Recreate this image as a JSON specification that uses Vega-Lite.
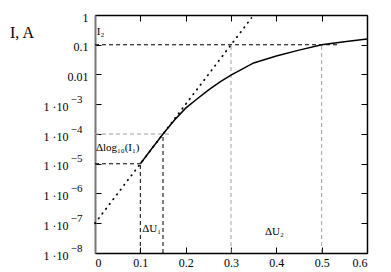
{
  "$schema": "https://vega.github.io/schema/vega-lite/v6.json",
  "width": 272,
  "height": 238,
  "autosize": {"type": "none"},
  "padding": {"left": 95, "top": 15, "right": 24, "bottom": 19},
  "background": "white",
  "config": {
    "view": {"stroke": null},
    "font": "Liberation Serif",
    "axis": {"labelFont": "Liberation Serif", "labelFontSize": 12, "labelColor": "#000", "domainColor": "#000", "domainWidth": 1.5, "tickColor": "#000", "tickSize": -6, "tickWidth": 1, "grid": false, "title": null}
  },
  "datasets": {
    "curve": [
      {"u": 0.1, "i": 1e-5}, {"u": 0.125, "i": 3.2e-5}, {"u": 0.15, "i": 1e-4}, {"u": 0.175, "i": 2.9e-4},
      {"u": 0.2, "i": 7.4e-4}, {"u": 0.225, "i": 1.5e-3}, {"u": 0.25, "i": 3e-3}, {"u": 0.275, "i": 5.5e-3},
      {"u": 0.3, "i": 9.5e-3}, {"u": 0.35, "i": 0.0245}, {"u": 0.4, "i": 0.042}, {"u": 0.45, "i": 0.066},
      {"u": 0.5, "i": 0.1}, {"u": 0.55, "i": 0.126}, {"u": 0.6, "i": 0.155}
    ],
    "dotted": [{"u": 0, "i": 1e-7}, {"u": 0.345, "i": 0.79}],
    "rules": [
      {"x": 0, "x2": 0.54, "y": 0.1, "y2": 0.1, "c": "black"},
      {"x": 0.3, "x2": 0.3, "y": 1e-8, "y2": 0.1, "c": "gray"},
      {"x": 0.5, "x2": 0.5, "y": 1e-8, "y2": 0.1, "c": "gray"},
      {"x": 0, "x2": 0.1, "y": 1e-5, "y2": 1e-5, "c": "black"},
      {"x": 0.1, "x2": 0.1, "y": 1e-8, "y2": 1e-5, "c": "black"},
      {"x": 0, "x2": 0.17, "y": 1e-4, "y2": 1e-4, "c": "gray"},
      {"x": 0.15, "x2": 0.15, "y": 1e-8, "y2": 1e-4, "c": "black"}
    ],
    "labels": [
      {"x": 0.004, "y": 0.27, "t": "I₂", "s": 11},
      {"x": 0.002, "y": 3.4e-5, "t": "Δlog₁₀(I₁)", "s": 11},
      {"x": 0.104, "y": 6.4e-8, "t": "ΔU₁", "s": 11},
      {"x": 0.375, "y": 5.1e-8, "t": "ΔU₂", "s": 11},
      {"x": -0.1875, "y": 0.25, "t": "I, A", "s": 16}
    ]
  },
  "resolve": {"axis": {"x": "independent", "y": "independent"}},
  "layer": [
    {
      "data": {"name": "rules"},
      "mark": {"type": "rule", "strokeDash": [4, 3], "strokeWidth": 1},
      "encoding": {
        "x": {"field": "x", "type": "quantitative", "scale": {"domain": [0, 0.6]}, "axis": null},
        "x2": {"field": "x2"},
        "y": {"field": "y", "type": "quantitative", "scale": {"type": "log", "domain": [1e-8, 1]}, "axis": {"orient": "left", "values": [1e-8, 1e-7, 1e-6, 1e-5, 1e-4, 1e-3], "ticks": false, "domain": false, "labelPadding": 27, "labelOffset": 2, "labelExpr": "'1 ·10'"}},
        "y2": {"field": "y2"},
        "color": {"field": "c", "type": "nominal", "scale": {"domain": ["black", "gray"], "range": ["#000000", "#a0a0a0"]}, "legend": null}
      }
    },
    {
      "data": {"name": "dotted"},
      "mark": {"type": "line", "color": "#000", "strokeDash": [0.5, 5.5], "strokeWidth": 1.8, "strokeCap": "round"},
      "encoding": {
        "x": {"field": "u", "type": "quantitative", "axis": {"orient": "top", "labels": false, "values": [0, 0.1, 0.2, 0.3, 0.4, 0.5, 0.6]}},
        "y": {"field": "i", "type": "quantitative", "axis": {"orient": "right", "labels": false, "values": [1e-8, 1e-7, 1e-6, 1e-5, 1e-4, 1e-3, 0.01, 0.1, 1]}}
      }
    },
    {
      "data": {"name": "curve"},
      "mark": {"type": "line", "color": "#000", "strokeWidth": 1.5},
      "encoding": {
        "x": {"field": "u", "type": "quantitative", "axis": {"orient": "bottom", "values": [0, 0.1, 0.2, 0.3, 0.4, 0.5, 0.6], "labelPadding": 10, "labelExpr": "datum.value == 0 ? '0' : format(datum.value, '.1f')"}},
        "y": {"field": "i", "type": "quantitative", "axis": {
          "orient": "left", "domainColor": "#777777", "domainWidth": 2,
          "values": [1e-8, 1e-7, 1e-6, 1e-5, 1e-4, 1e-3, 0.01, 0.1, 1],
          "labelPadding": {"condition": {"test": "datum.value < 0.005", "value": 19}, "value": 13},
          "labelOffset": {"condition": {"test": "datum.value < 0.005", "value": -5}, "value": 2},
          "labelFontSize": {"condition": {"test": "datum.value < 0.005", "value": 11}, "value": 12},
          "labelExpr": "datum.value > 0.5 ? '1' : datum.value > 0.05 ? '0.1' : datum.value > 0.005 ? '0.01' : '−' + round(-log(datum.value) / LN10)"}}
      }
    },
    {
      "data": {"name": "labels"},
      "mark": {"type": "text", "baseline": "middle", "align": "left", "color": "#000", "clip": false},
      "encoding": {
        "x": {"field": "x", "type": "quantitative", "axis": null},
        "y": {"field": "y", "type": "quantitative", "axis": null},
        "text": {"field": "t"},
        "size": {"field": "s", "type": "quantitative", "scale": null}
      }
    }
  ]
}
